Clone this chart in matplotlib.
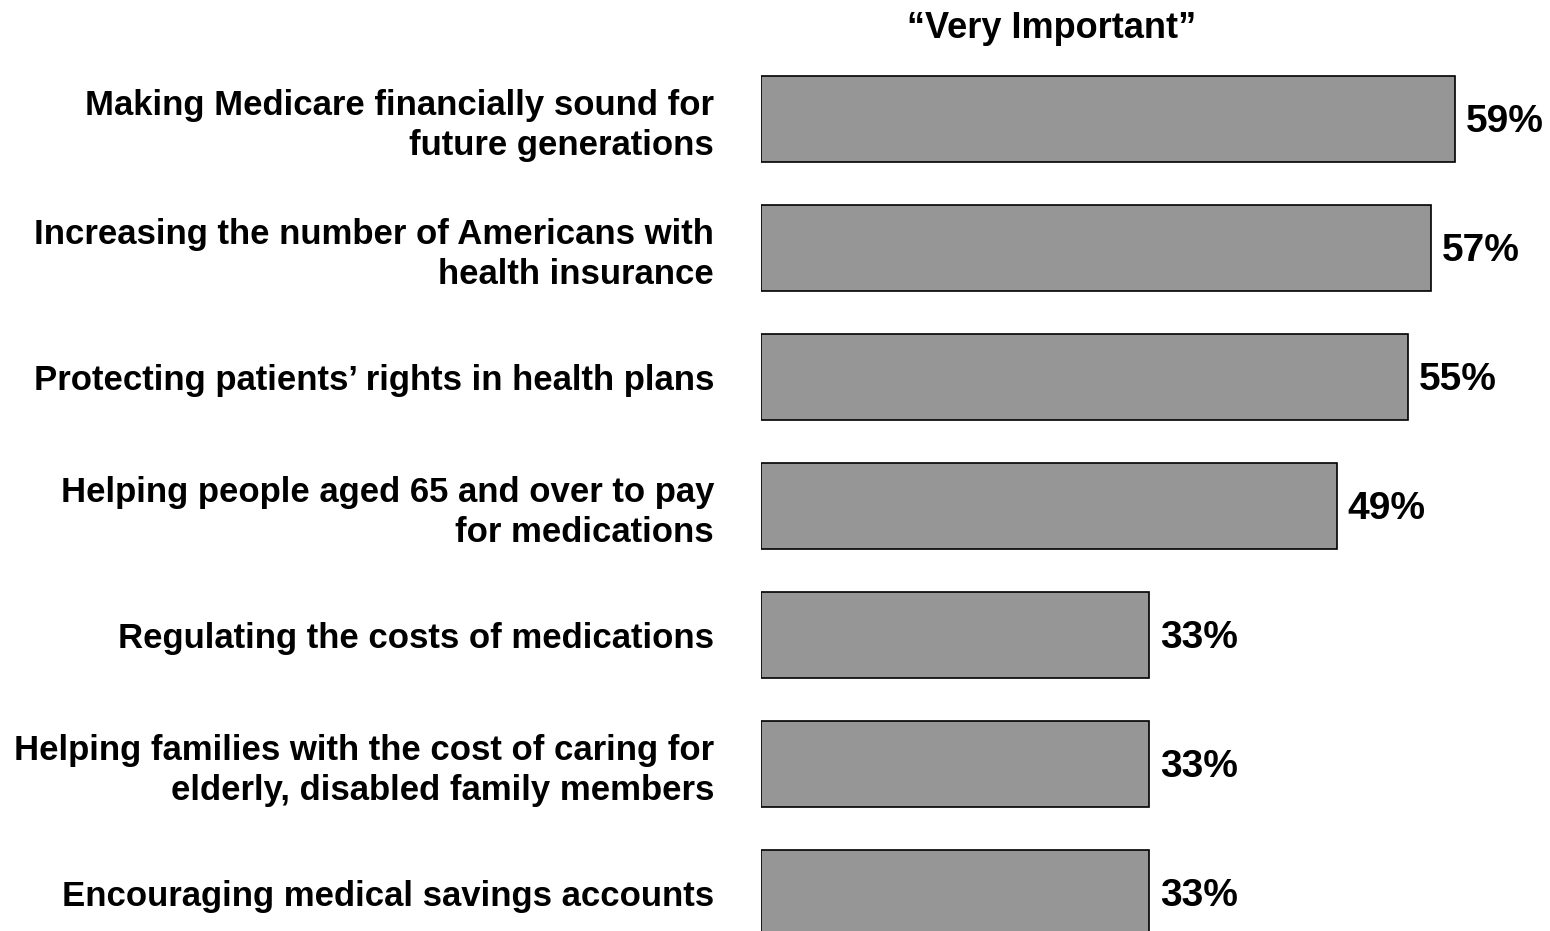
import matplotlib.pyplot as plt

# Datos: porcentaje que lo considera "muy importante"
temas = [
    "Making Medicare financially sound for\nfuture generations",
    "Increasing the number of Americans with\nhealth insurance",
    "Protecting patients\u2019 rights in health plans",
    "Helping people aged 65 and over to pay\nfor medications",
    "Regulating the costs of medications",
    "Helping families with the cost of caring for\nelderly, disabled family members",
    "Encouraging medical savings accounts",
]
valores = [59, 57, 55, 49, 33, 33, 33]

plt.rcParams['font.family'] = ['Liberation Sans', 'DejaVu Sans']
plt.rcParams['font.weight'] = 'bold'

fig = plt.figure(figsize=(15.5, 9.31), dpi=100)
ax = fig.add_axes([761 / 1550, 0, 1 - 761 / 1550, 1])

pos = list(range(len(temas)))
ax.barh(pos, valores, height=0.667, color='#969696', edgecolor='black', linewidth=1.2)

for p, v in zip(pos, valores):
    ax.text(v + 0.9, p + 0.02, f"{v}%", va='center', ha='left', fontsize=28, fontweight='bold')

ax.set_xlim(0, 789 / 11.76)
ax.set_ylim(6.295, -0.922)
ax.set_yticks(pos)
ax.set_yticklabels(temas, fontsize=25, fontweight='bold', linespacing=1.25)
ax.tick_params(axis='y', length=0, pad=33.8)
ax.set_xticks([])
for s in ax.spines.values():
    s.set_visible(False)

fig.text(1051.5 / 1550, 1 - 29 / 931, "\u201cVery Important\u201d", ha='center', va='center',
         fontsize=26, fontweight='bold')

fig.savefig('out.png', dpi=100)
